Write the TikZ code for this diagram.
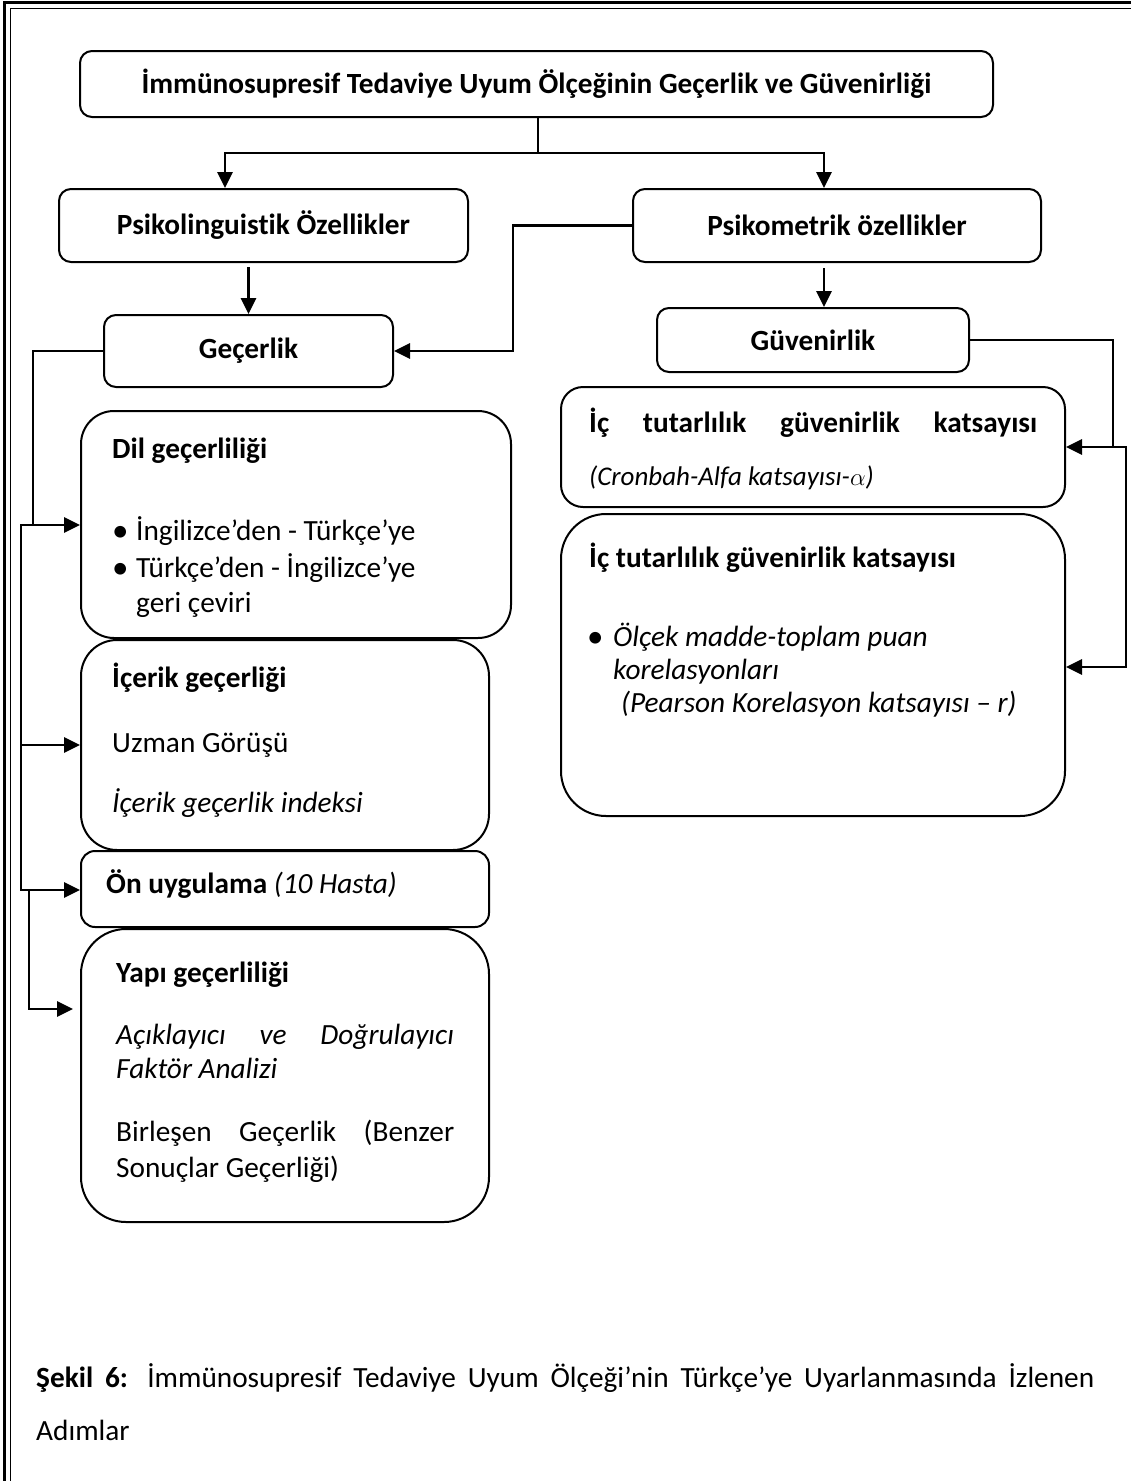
\documentclass[tikz,border=0pt]{standalone}
\usepackage{fontspec}
\setmainfont{Carlito}[Ligatures=NoCommon]
\usetikzlibrary{arrows.meta,calc}
\tikzset{
  box/.style={draw, line width=2pt, rounded corners=#1, inner sep=0pt, align=center},
  box/.default=12pt,
  conn/.style={draw, line width=2.8pt, line cap=rect, line join=miter},
  arr/.style={conn, -{Triangle[length=16pt,width=15pt]}},
  txt/.style={anchor=base west, inner sep=0pt},
  every node/.style={font=\fontsize{29.3}{35}\selectfont}
}
\newcommand{\bul}{{\fontsize{33}{35}\selectfont •}}
\begin{document}
\begin{tikzpicture}[x=1pt,y=-1pt]
\useasboundingbox (0,0) rectangle (1131,1481);
\fill[white] (0,0) rectangle (1131,1481);
% page border
\draw[line width=3pt, line join=miter] (4,1481) -- (4,2.5) -- (1131,2.5);
\draw[line width=1.5pt, line join=miter] (10.5,1481) -- (10.5,8.5) -- (1131,8.5);

% boxes
\node[box, minimum width=913pt, minimum height=66pt] (title) at (536.5,84) {\bfseries İmmünosupresif Tedaviye Uyum Ölçeğinin Geçerlik ve Güvenirliği};
\node[box, minimum width=409pt, minimum height=73pt] (psl) at (263.5,225.5) {\bfseries Psikolinguistik Özellikler};
\node[box, minimum width=408pt, minimum height=73pt] (psm) at (837,225.5) {\bfseries Psikometrik özellikler};
\node[box, minimum width=289pt, minimum height=72pt] (gec) at (248.5,351) {\bfseries Geçerlik};
\node[box, minimum width=312pt, minimum height=64pt] (guv) at (813,340) {\bfseries Güvenirlik};
\node[box=22pt, minimum width=504pt, minimum height=120pt] (b1) at (813,447) {};
\node[box=45pt, minimum width=504pt, minimum height=302pt] (b2) at (813,665) {};
\node[box=33pt, minimum width=430pt, minimum height=227pt] (dil) at (296,524.5) {};
\node[box=36pt, minimum width=408pt, minimum height=210pt] (ice) at (285,745) {};
\node[box=14pt, minimum width=408pt, minimum height=76pt] (onu) at (285,889) {};
\node[box=45pt, minimum width=408pt, minimum height=293pt] (yapi) at (285,1075.5) {};

% texts in left column
\node[txt] (dilA) at (112,458) {\bfseries Dil geçerliliği};
\node[txt] (dilB1) at (112,541) {\bul};
\node[txt] (dilB) at (136,540) {İngilizce’den - Türkçe’ye};
\node[txt] (dilC1) at (112,578) {\bul};
\node[txt] (dilC) at (136,577) {Türkçe’den - İngilizce’ye};
\node[txt] (dilD) at (136,612) {geri çeviri};
\node[txt] (iceA) at (112,687) {\bfseries İçerik geçerliği};
\node[txt] (iceB) at (112,752) {Uzman Görüşü};
\node[txt] (iceC) at (112,812) {\itshape İçerik geçerlik indeksi};
\node[txt] (onuA) at (106,893) {\textbf{Ön uygulama} \textit{(10 Hasta)}};
\node[txt] (yapA) at (116,982) {\bfseries Yapı geçerliliği};
\node[txt] (yapB) at (116,1044) {\hbox to 338pt{\itshape Açıklayıcı\hfill ve\hfill Doğrulayıcı}};
\node[txt] (yapC) at (116,1078) {\itshape Faktör Analizi};
\node[txt] (yapD) at (116,1141) {\hbox to 338pt{Birleşen\hfill Geçerlik\hfill (Benzer}};
\node[txt] (yapE) at (116,1177) {Sonuçlar Geçerliği)};

% texts in right column
\node[txt] (b1A) at (589,432) {\hbox to 448pt{\bfseries İç\hfill tutarlılık\hfill güvenirlik\hfill katsayısı}};
\node[txt, font=\fontsize{27}{32}\selectfont] (b1B) at (589,485) {\itshape (Cronbah-Alfa katsayısı-$\alpha$)};
\node[txt] (b2A) at (589,567) {\bfseries İç tutarlılık güvenirlik katsayısı};
\node[txt] (b2B1) at (587,647) {\bul};
\node[txt] (b2B) at (613,646) {\itshape Ölçek madde-toplam puan};
\node[txt] (b2C) at (613,679) {\itshape korelasyonları};
\node[txt] (b2D) at (621,712) {\itshape (Pearson Korelasyon katsayısı – r)};

% caption
\node[txt] (cap1) at (36,1387) {\hbox to 1058pt{\textbf{Şekil 6:} İmmünosupresif Tedaviye Uyum Ölçeği’nin Türkçe’ye Uyarlanmasında İzlenen}};
\node[txt] (cap2) at (36,1440) {Adımlar};

% helper coordinates
\coordinate (j0) at (538,153);
\coordinate (xL) at (225,0);
\coordinate (xR) at (824,0);
\coordinate (xM) at (513,0);
\coordinate (xA) at (33,0);
\coordinate (xB) at (21,0);
\coordinate (xC) at (29,0);
\coordinate (xD) at (1113,0);
\coordinate (xE) at (1126,0);
\coordinate (yDil) at (0,525);
\coordinate (yIce) at (0,745);
\coordinate (yOn) at (0,890);
\coordinate (yYap) at (0,1009);
\coordinate (yB1) at (0,447);
\coordinate (yB2) at (0,667);

% connectors
\draw[conn] (title.south -| j0) -- (j0);
\draw[arr] (j0) -| (psl.north -| xL);
\draw[arr] (j0) -| (psm.north -| xR);
\draw[arr] ([yshift=-5pt]psl.south -| gec.north) -- (gec.north);
\draw[arr] ([yshift=-6pt]psm.south -| xR) -- (guv.north -| xR);
\draw[arr] (psm.west) -| (xM |- gec.east) -- (gec.east);

\draw[conn] (gec.west) -| (xA |- yDil);
\draw[arr] (xB |- yDil) -- (dil.west |- yDil);
\draw[conn] (xB |- yDil) -- (xB |- yOn);
\draw[arr] (xB |- yIce) -- (ice.west |- yIce);
\draw[arr] (xB |- yOn) -- (onu.west |- yOn);
\draw[arr, shorten >=7pt] (xC |- yOn) |- (yapi.west |- yYap);

\draw[conn] (guv.east) -| (xD |- yB1);
\draw[arr] (xE |- yB1) -- (b1.east |- yB1);
\draw[conn] (xE |- yB1) -- (xE |- yB2);
\draw[arr] (xE |- yB2) -- (b2.east |- yB2);
\end{tikzpicture}
\end{document}
